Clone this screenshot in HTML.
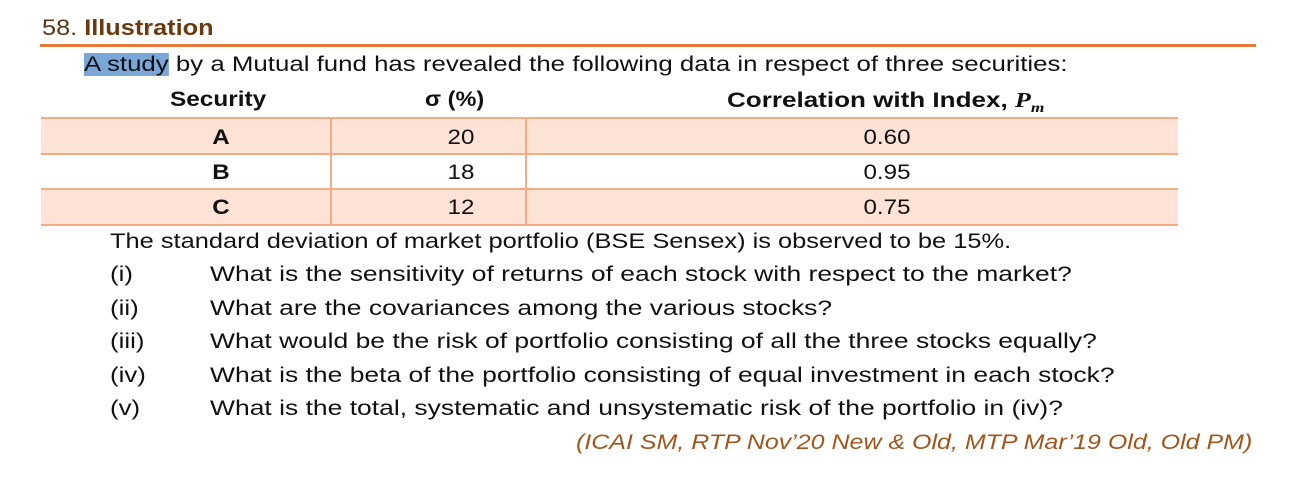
<!DOCTYPE html>
<html><head><meta charset="utf-8"><style>
body{margin:0;width:1310px;height:499px;background:#fff;position:relative;overflow:hidden;font-family:"Liberation Sans",sans-serif;color:#111}
.t{position:absolute;white-space:nowrap;font-size:21px;line-height:24px;transform-origin:0 0;transform:scaleX(1.23)}
.c{position:absolute;text-align:center;font-size:21px;line-height:24px;transform:scaleX(1.15)}
.row{position:absolute;left:41px;width:1137px;height:34px;border-top:2px solid #f2ad85}
</style></head><body>
<div class="t" style="left:42px;top:16px;font-size:22px;color:#5a3414;transform:scaleX(1.15)">58. <b style="color:#6b3a0e">Illustration</b></div>
<div style="position:absolute;left:40px;top:44px;width:1216px;height:3px;background:#e8793e"></div>
<div class="t" style="left:84px;top:53px"><span style="background:#7aa7d8">A study</span> by a Mutual fund has revealed the following data in respect of three securities:</div>
<div class="t" style="left:170px;top:88px;font-weight:bold;transform:scaleX(1.16)">Security</div>
<div class="t" style="left:425px;top:88px;font-weight:bold;transform:scaleX(1.12)">σ (%)</div>
<div class="t" style="left:727px;top:88px;font-weight:bold;transform:scaleX(1.24)">Correlation with Index, <i style="font-family:'Liberation Serif',serif">P<sub style="font-size:14px">m</sub></i></div>
<div class="row" style="top:117px;background:#fce3d6"></div>
<div class="row" style="top:153px;background:#fff"></div>
<div class="row" style="top:188px;background:#fce3d6;border-bottom:2px solid #f2ad85"></div>
<div style="position:absolute;left:330px;top:118px;width:2px;height:106px;background:#f2ad85"></div>
<div style="position:absolute;left:525px;top:118px;width:2px;height:106px;background:#f2ad85"></div>
<div class="c" style="left:41px;width:360px;top:126px;font-weight:bold">A</div>
<div class="c" style="left:41px;width:360px;top:161px;font-weight:bold">B</div>
<div class="c" style="left:41px;width:360px;top:196px;font-weight:bold">C</div>
<div class="c" style="left:332px;width:258px;top:126px">20</div>
<div class="c" style="left:332px;width:258px;top:161px">18</div>
<div class="c" style="left:332px;width:258px;top:196px">12</div>
<div class="c" style="left:527px;width:720px;top:126px">0.60</div>
<div class="c" style="left:527px;width:720px;top:161px">0.95</div>
<div class="c" style="left:527px;width:720px;top:196px">0.75</div>
<div class="t" style="left:110px;top:230px;transform:scaleX(1.21)">The standard deviation of market portfolio (BSE Sensex) is observed to be 15%.</div>
<div class="t" style="left:110px;top:263px">(i)</div><div class="t" style="left:210px;top:263px;transform:scaleX(1.26)">What is the sensitivity of returns of each stock with respect to the market?</div>
<div class="t" style="left:110px;top:297px">(ii)</div><div class="t" style="left:210px;top:297px;transform:scaleX(1.26)">What are the covariances among the various stocks?</div>
<div class="t" style="left:110px;top:330px">(iii)</div><div class="t" style="left:210px;top:330px;transform:scaleX(1.26)">What would be the risk of portfolio consisting of all the three stocks equally?</div>
<div class="t" style="left:110px;top:364px">(iv)</div><div class="t" style="left:210px;top:364px;transform:scaleX(1.26)">What is the beta of the portfolio consisting of equal investment in each stock?</div>
<div class="t" style="left:110px;top:397px">(v)</div><div class="t" style="left:210px;top:397px;transform:scaleX(1.26)">What is the total, systematic and unsystematic risk of the portfolio in (iv)?</div>
<div class="t" style="left:576px;top:431px;font-style:italic;color:#a0561c;transform:scaleX(1.19)">(ICAI SM, RTP Nov’20 New &amp; Old, MTP Mar’19 Old, Old PM)</div>
</body></html>
